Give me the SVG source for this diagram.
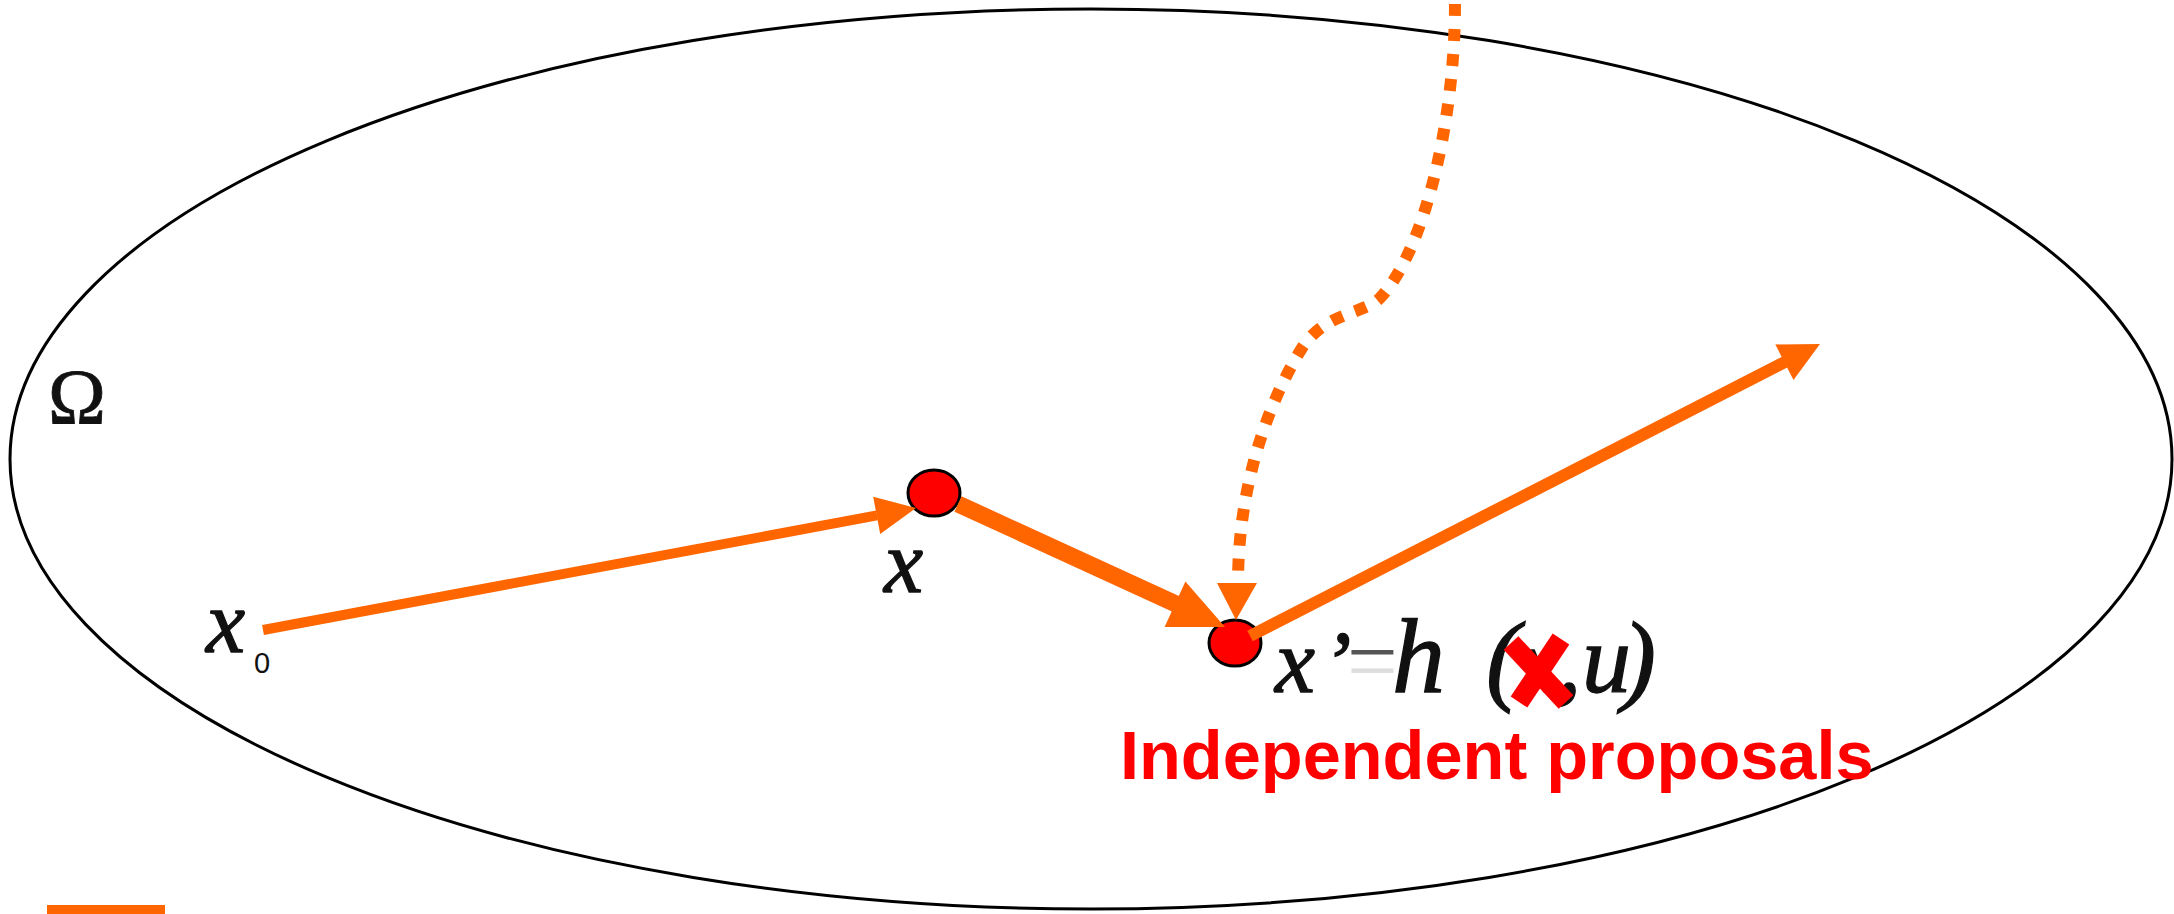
<svg xmlns="http://www.w3.org/2000/svg" width="2174" height="914" viewBox="0 0 2174 914">
<style>
.region{fill:none;stroke:#000;stroke-width:3}
.node{fill:#ff0000;stroke:#000;stroke-width:3}
.ln{stroke:#ff6600;fill:none;stroke-linecap:butt}
.head{fill:#ff6600;stroke:none}
.dots{stroke:#ff6600;fill:none;stroke-width:12;stroke-dasharray:12 13}
.math{font-family:"Liberation Serif","Times New Roman",serif;font-style:italic;fill:#111;stroke:#111;stroke-width:1.3}
.rm{font-family:"Liberation Serif","Times New Roman",serif;fill:#111;stroke:#111;stroke-width:0.8}
.sub{font-family:"Liberation Sans",Arial,sans-serif;fill:#111}
.note{font-family:"Liberation Sans",Arial,sans-serif;font-weight:bold;fill:#ff0000}
</style>
<defs>
<linearGradient id="eqg" gradientUnits="userSpaceOnUse" x1="0" y1="653" x2="0" y2="677">
<stop offset="0" stop-color="#555"/><stop offset="0.48" stop-color="#666"/><stop offset="0.52" stop-color="#d8d8d8"/><stop offset="1" stop-color="#e4e4e4"/>
</linearGradient>
</defs>
<rect width="2174" height="914" fill="#fff"/>
<g id="region-omega">
<ellipse class="region" cx="1091" cy="459" rx="1081" ry="450"/>
<text class="rm" x="48" y="423" font-size="78">Ω</text>
</g>
<g id="label-x0">
<text class="math" x="206" y="652" font-size="88">x<tspan class="sub" x="254" y="673" font-size="29" font-style="normal" stroke="none">0</tspan></text>
</g>
<g id="node-x">
<ellipse class="node" cx="934" cy="493" rx="26" ry="23"/>
<text class="math" x="884" y="592" font-size="88">x</text>
</g>
<g id="node-xprime">
<ellipse class="node" cx="1235" cy="643" rx="26" ry="23"/>
<text class="math" y="692"><tspan x="1275" font-size="90">x</tspan><tspan x="1322" font-size="88">’</tspan><tspan x="1347" font-size="90" font-style="normal" fill="url(#eqg)" stroke="none">=</tspan><tspan x="1392" font-size="106">h</tspan><tspan x="1486" font-size="102">(</tspan><tspan x="1518" font-size="92">x</tspan><tspan x="1558" font-size="92">,</tspan><tspan x="1582" font-size="98">u</tspan><tspan x="1622" font-size="102">)</tspan></text>
<g id="cross">
<line x1="1511" y1="643" x2="1566" y2="702" stroke="#ff0000" stroke-width="20"/>
<line x1="1561" y1="639" x2="1519" y2="702" stroke="#ff0000" stroke-width="20"/>
</g>
<text class="note" x="1120" y="779" font-size="68.5">Independent proposals</text>
</g>
<g id="connectors">
<line class="ln" x1="263" y1="630" x2="877" y2="515.4" stroke-width="10"/>
<polygon class="head" points="916,508 880.2,534 873.2,496.7"/>
<line class="ln" x1="958" y1="504" x2="1176" y2="604" stroke-width="17"/>
<polygon class="head" points="1225,627 1164.6,626.9 1185.4,581.4"/>
<line class="ln" x1="1250" y1="636" x2="1785" y2="362" stroke-width="12"/>
<polygon class="head" points="1820,344 1793.5,380 1775.3,344.4"/>
<path class="dots" d="M1455,4 C1455,120 1425,250 1380,298 C1365,314 1325,312 1302,348 C1285,375 1238,460 1238,584"/>
<polygon class="head" points="1217,583 1257,583 1236,620"/>
</g>
<rect id="legend-bar" x="47" y="905" width="118" height="9" fill="#ff6600"/>
</svg>
